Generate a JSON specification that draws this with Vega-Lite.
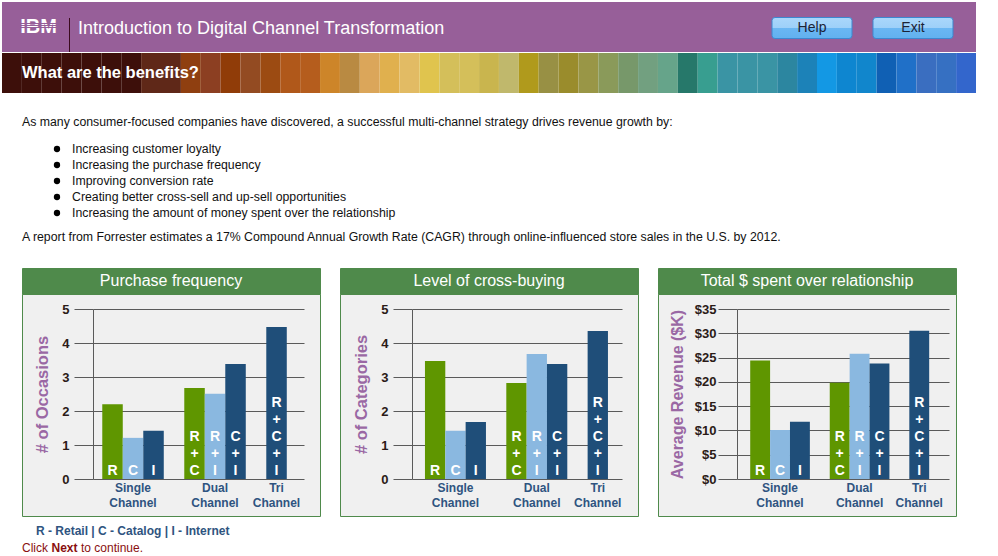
{
  "$schema": "https://vega.github.io/schema/vega-lite/v6.json",
  "padding": {"left": 2, "top": 2, "right": 0, "bottom": 0},
  "background": "white",
  "spacing": 0,
  "resolve": {"scale": {"color": "independent"}},
  "config": {"view": {"stroke": null}, "font": "Liberation Sans", "concat": {"spacing": 0}},
  "vconcat": [
    {
      "spacing": 0,
      "bounds": "flush",
      "hconcat": [
        {
          "width": 67, "height": 50,
          "view": {"fill": "#975f99", "stroke": null},
          "data": {"values": [{"t": "IBM"}]},
          "mark": {"type": "text", "fontSize": 20, "fontWeight": "bold", "baseline": "middle", "dx": 3,
            "fill": {"gradient": "linear", "x1": 0, "y1": 0, "x2": 0, "y2": 1, "stops": [
              {"offset": 0, "color": "#ffffff"}, {"offset": 0.225, "color": "#ffffff"}, {"offset": 0.225, "color": "#975f99"}, {"offset": 0.25, "color": "#975f99"},
              {"offset": 0.25, "color": "#ffffff"}, {"offset": 0.305, "color": "#ffffff"}, {"offset": 0.305, "color": "#975f99"}, {"offset": 0.33, "color": "#975f99"},
              {"offset": 0.33, "color": "#ffffff"}, {"offset": 0.385, "color": "#ffffff"}, {"offset": 0.385, "color": "#975f99"}, {"offset": 0.41, "color": "#975f99"},
              {"offset": 0.41, "color": "#ffffff"}, {"offset": 0.465, "color": "#ffffff"}, {"offset": 0.465, "color": "#975f99"}, {"offset": 0.49, "color": "#975f99"},
              {"offset": 0.49, "color": "#ffffff"}, {"offset": 0.545, "color": "#ffffff"}, {"offset": 0.545, "color": "#975f99"}, {"offset": 0.57, "color": "#975f99"},
              {"offset": 0.57, "color": "#ffffff"}, {"offset": 0.625, "color": "#ffffff"}, {"offset": 0.625, "color": "#975f99"}, {"offset": 0.65, "color": "#975f99"},
              {"offset": 0.65, "color": "#ffffff"}, {"offset": 0.705, "color": "#ffffff"}, {"offset": 0.705, "color": "#975f99"}, {"offset": 0.73, "color": "#975f99"},
              {"offset": 0.73, "color": "#ffffff"}, {"offset": 1, "color": "#ffffff"}]}},
          "encoding": {"text": {"field": "t", "type": "nominal"}}
        },
        {
          "width": 1, "height": 50,
          "view": {"fill": "#975f99", "stroke": null},
          "data": {"values": [{"from": 0, "to": 1}]},
          "mark": {"type": "rule", "color": "#3b0b1e", "strokeWidth": 1},
          "encoding": {
            "y": {"field": "from", "type": "quantitative", "scale": {"domain": [0, 1.47]}, "axis": null},
            "y2": {"field": "to"}
          }
        },
        {
          "width": 679, "height": 50,
          "view": {"fill": "#975f99", "stroke": null},
          "data": {"values": [{"t": "Introduction to Digital Channel Transformation"}]},
          "mark": {"type": "text", "fontSize": 18, "color": "white", "align": "left", "baseline": "middle", "dx": -331.5, "dy": 1.5},
          "encoding": {"text": {"field": "t", "type": "nominal"}}
        },
        {
          "width": 227, "height": 50,
          "view": {"fill": "#975f99", "stroke": null},
          "data": {"values": [{"b": "Help"}, {"b": "Exit"}]},
          "encoding": {"x": {"field": "b", "type": "nominal", "sort": null, "scale": {"type": "point", "padding": 0.624}, "axis": null}},
          "layer": [
            {
              "mark": {"type": "point", "filled": true, "opacity": 1, "size": 6400, "yOffset": 1,
                "shape": "M-0.925,-0.2625H0.925Q1,-0.2625 1,-0.1875V0.1875Q1,0.2625 0.925,0.2625H-0.925Q-1,0.2625 -1,0.1875V-0.1875Q-1,-0.2625 -0.925,-0.2625Z",
                "fill": {"gradient": "linear", "x1": 0, "y1": 0, "x2": 0, "y2": 1, "stops": [
                  {"offset": 0, "color": "#aad7fb"}, {"offset": 0.5, "color": "#9dd0f9"}, {"offset": 0.5, "color": "#6ab7f3"}, {"offset": 1, "color": "#62b1ef"}]},
                "stroke": "#3d88d0", "strokeWidth": 1}
            },
            {
              "mark": {"type": "text", "fontSize": 14, "color": "#1b2336", "baseline": "middle", "yOffset": 1},
              "encoding": {"text": {"field": "b", "type": "nominal"}}
            }
          ]
        }
      ]
    },
    {
      "width": 974, "height": 40,
      "layer": [
        {
          "data": {"values": [
            {"seg": 1}, {"seg": 2}, {"seg": 3}, {"seg": 4}, {"seg": 5}, {"seg": 6}, {"seg": 7}, {"seg": 8}, {"seg": 9}, {"seg": 10},
            {"seg": 11}, {"seg": 12}, {"seg": 13}, {"seg": 14}, {"seg": 15}, {"seg": 16}, {"seg": 17}, {"seg": 18}, {"seg": 19}, {"seg": 20},
            {"seg": 21}, {"seg": 22}, {"seg": 23}, {"seg": 24}, {"seg": 25}, {"seg": 26}, {"seg": 27}, {"seg": 28}, {"seg": 29}, {"seg": 30},
            {"seg": 31}, {"seg": 32}, {"seg": 33}, {"seg": 34}, {"seg": 35}, {"seg": 36}, {"seg": 37}, {"seg": 38}, {"seg": 39}, {"seg": 40},
            {"seg": 41}, {"seg": 42}, {"seg": 43}, {"seg": 44}, {"seg": 45}, {"seg": 46}, {"seg": 47}, {"seg": 48}, {"seg": 49}
          ]},
          "mark": {"type": "rect"},
          "encoding": {
            "x": {"field": "seg", "type": "ordinal", "scale": {"paddingInner": 0, "paddingOuter": 0}, "axis": null},
            "color": {"field": "seg", "type": "ordinal", "legend": null, "scale": {"range": [
              "#3d0f0a", "#3d0f0a", "#3d0f0a", "#3d0f0a", "#3d0f0a", "#3d0f0a", "#3d0f0a", "#5f2818", "#5f2818",
              "#8f3f10", "#8c3f22", "#903c08", "#934b22", "#9c4b12", "#b0581a", "#b55d1d", "#cd8529", "#b98a42", "#dba65a",
              "#e0b04e", "#e2bb64", "#e0c44e", "#d4bf5a", "#d4bf5a", "#c9b54e", "#c0b86c", "#b09a1c", "#989044", "#9a8c2c",
              "#999646", "#8a9a5a", "#77986a", "#72a080", "#66a48a", "#26786a", "#389e90", "#3a94a4", "#3a94a4", "#3a94a4",
              "#2c86a0", "#1c82b8", "#1398e4", "#0e86d0", "#1186cc", "#1060b4", "#2070c8", "#3a6ec0", "#3670c2", "#3366cc"]}}
          }
        },
        {
          "data": {"values": [{"seg": 1, "label": "What are the benefits?"}]},
          "mark": {"type": "text", "color": "white", "fontSize": 16.5, "fontWeight": "bold", "align": "left", "baseline": "middle", "dx": 20},
          "encoding": {
            "x": {"field": "seg", "type": "ordinal", "bandPosition": 0, "axis": null},
            "text": {"field": "label", "type": "nominal"}
          }
        }
      ]
    },
    {
      "width": 40, "height": 48,
      "data": {"values": [{"t": "As many consumer-focused companies have discovered, a successful multi-channel strategy drives revenue growth by:"}]},
      "mark": {"type": "text", "fontSize": 12.3, "color": "#111111", "align": "left", "baseline": "alphabetic", "dy": 9},
      "encoding": {"text": {"field": "t", "type": "nominal"}}
    },
    {
      "width": 40, "height": 80,
      "data": {"values": [
        {"item": "Increasing customer loyalty"},
        {"item": "Increasing the purchase frequency"},
        {"item": "Improving conversion rate"},
        {"item": "Creating better cross-sell and up-sell opportunities"},
        {"item": "Increasing the amount of money spent over the relationship"}
      ]},
      "encoding": {"y": {"field": "item", "type": "nominal", "sort": null, "scale": {"type": "point", "padding": 0.5}, "axis": null}},
      "layer": [
        {"mark": {"type": "point", "filled": true, "opacity": 1, "size": 40, "color": "#000000", "xOffset": 35}},
        {"mark": {"type": "text", "fontSize": 12.3, "color": "#111111", "align": "left", "baseline": "middle", "dx": 50},
         "encoding": {"text": {"field": "item", "type": "nominal"}}}
      ]
    },
    {
      "width": 40, "height": 46,
      "data": {"values": [{"t": "A report from Forrester estimates a 17% Compound Annual Growth Rate (CAGR) through online-influenced store sales in the U.S. by 2012."}]},
      "mark": {"type": "text", "fontSize": 12.3, "color": "#111111", "align": "left", "baseline": "alphabetic", "dy": -3},
      "encoding": {"text": {"field": "t", "type": "nominal"}}
    },
    {
      "spacing": 18,
      "hconcat": [
        {"width": 1, "height": 1, "data": {"values": []}, "mark": {"type": "point", "opacity": 0}},
        {
          "spacing": 0,
          "bounds": "flush",
          "vconcat": [
            {
              "width": 298, "height": 26,
              "view": {"fill": "#4f8a4b", "stroke": "#4f8a4b"},
              "data": {"values": [{"t": "Purchase frequency"}]},
              "mark": {"type": "text", "color": "white", "fontSize": 16, "baseline": "middle"},
              "encoding": {"text": {"field": "t", "type": "nominal"}}
            },
            {
              "width": 298, "height": 222,
              "view": {"fill": "#f0f0f0", "stroke": "#4f8a4b"},
              "resolve": {"axis": {"y": "independent"}},
              "data": {"values": [
                {"bar": "R", "value": 2.2}, {"bar": "C", "value": 1.21}, {"bar": "I", "value": 1.42},
                {"bar": "R+C", "value": 2.68}, {"bar": "R+I", "value": 2.51}, {"bar": "C+I", "value": 3.38},
                {"bar": "R+C+I", "value": 4.47}
              ]},
              "encoding": {
                "x": {"field": "bar", "type": "nominal",
                  "scale": {"domain": ["R", "C", "I", "gap1", "R+C", "R+I", "C+I", "gap2", "R+C+I"], "range": [71, 282], "paddingInner": 0, "paddingOuter": 0.646, "align": 0.35},
                  "axis": {"orient": "bottom", "offset": -37, "title": null, "domain": false, "ticks": false, "grid": false, "labelAngle": 0,
                    "labelExpr": "datum.value == 'C' ? ['Single', 'Channel'] : datum.value == 'R+I' ? ['Dual', 'Channel'] : datum.value == 'R+C+I' ? ['Tri', 'Channel'] : ''",
                    "labelFontSize": 12, "labelFontWeight": "bold", "labelColor": "#2f5480", "labelPadding": 3, "labelLineHeight": 15, "labelOverlap": false, "labelBound": false}}
              },
              "layer": [
                {"mark": {"type": "bar"},
                 "encoding": {
                   "y": {"field": "value", "type": "quantitative",
                     "scale": {"domain": [0, 5], "range": [185, 15], "nice": false},
                     "axis": {"orient": "left", "offset": -71, "values": [0, 1, 2, 3, 4, 5], "domainColor": "#5a5a5a", "tickColor": "#5a5a5a", "tickSize": 19,
                       "grid": true, "gridColor": "#5a5a5a", "gridOpacity": 1, "labelFontSize": 13, "labelFontWeight": "bold", "labelColor": "#2b1b17", "labelPadding": 5,
                       "labelFlush": false, "labelOverlap": false,
                       "title": "# of Occasions", "titleFontSize": 16.5, "titleFontWeight": "bold", "titleColor": "#9a68a4", "titlePadding": 11}},
                   "color": {"field": "bar", "type": "nominal", "legend": null,
                     "scale": {"domain": ["R", "C", "I", "R+C", "R+I", "C+I", "R+C+I"], "range": ["#5f9600", "#8ab8e0", "#1f4e79", "#5f9600", "#8ab8e0", "#1f4e79", "#1f4e79"]}}}},
                {"transform": [{"calculate": "reverse(split(datum.bar, ''))", "as": "lines"}],
                 "mark": {"type": "text", "color": "white", "fontSize": 14, "fontWeight": "bold", "baseline": "bottom", "lineHeight": -17, "dy": -1},
                 "encoding": {"y": {"datum": 0, "type": "quantitative", "axis": null}, "text": {"field": "lines", "type": "nominal"}}}
              ]
            }
          ]
        },
        {
          "spacing": 0,
          "bounds": "flush",
          "vconcat": [
            {
              "width": 298, "height": 26,
              "view": {"fill": "#4f8a4b", "stroke": "#4f8a4b"},
              "data": {"values": [{"t": "Level of cross-buying"}]},
              "mark": {"type": "text", "color": "white", "fontSize": 16, "baseline": "middle"},
              "encoding": {"text": {"field": "t", "type": "nominal"}}
            },
            {
              "width": 298, "height": 222,
              "view": {"fill": "#f0f0f0", "stroke": "#4f8a4b"},
              "resolve": {"axis": {"y": "independent"}},
              "data": {"values": [
                {"bar": "R", "value": 3.47}, {"bar": "C", "value": 1.42}, {"bar": "I", "value": 1.68},
                {"bar": "R+C", "value": 2.82}, {"bar": "R+I", "value": 3.68}, {"bar": "C+I", "value": 3.38},
                {"bar": "R+C+I", "value": 4.35}
              ]},
              "encoding": {
                "x": {"field": "bar", "type": "nominal",
                  "scale": {"domain": ["R", "C", "I", "gap1", "R+C", "R+I", "C+I", "gap2", "R+C+I"], "range": [72, 282], "paddingInner": 0, "paddingOuter": 0.664, "align": 0.48},
                  "axis": {"orient": "bottom", "offset": -37, "title": null, "domain": false, "ticks": false, "grid": false, "labelAngle": 0,
                    "labelExpr": "datum.value == 'C' ? ['Single', 'Channel'] : datum.value == 'R+I' ? ['Dual', 'Channel'] : datum.value == 'R+C+I' ? ['Tri', 'Channel'] : ''",
                    "labelFontSize": 12, "labelFontWeight": "bold", "labelColor": "#2f5480", "labelPadding": 3, "labelLineHeight": 15, "labelOverlap": false, "labelBound": false}}
              },
              "layer": [
                {"mark": {"type": "bar"},
                 "encoding": {
                   "y": {"field": "value", "type": "quantitative",
                     "scale": {"domain": [0, 5], "range": [185, 15], "nice": false},
                     "axis": {"orient": "left", "offset": -72, "values": [0, 1, 2, 3, 4, 5], "domainColor": "#5a5a5a", "tickColor": "#5a5a5a", "tickSize": 19,
                       "grid": true, "gridColor": "#5a5a5a", "gridOpacity": 1, "labelFontSize": 13, "labelFontWeight": "bold", "labelColor": "#2b1b17", "labelPadding": 5,
                       "labelFlush": false, "labelOverlap": false,
                       "title": "# of Categories", "titleFontSize": 16.5, "titleFontWeight": "bold", "titleColor": "#9a68a4", "titlePadding": 11}},
                   "color": {"field": "bar", "type": "nominal", "legend": null,
                     "scale": {"domain": ["R", "C", "I", "R+C", "R+I", "C+I", "R+C+I"], "range": ["#5f9600", "#8ab8e0", "#1f4e79", "#5f9600", "#8ab8e0", "#1f4e79", "#1f4e79"]}}}},
                {"transform": [{"calculate": "reverse(split(datum.bar, ''))", "as": "lines"}],
                 "mark": {"type": "text", "color": "white", "fontSize": 14, "fontWeight": "bold", "baseline": "bottom", "lineHeight": -17, "dy": -1},
                 "encoding": {"y": {"datum": 0, "type": "quantitative", "axis": null}, "text": {"field": "lines", "type": "nominal"}}}
              ]
            }
          ]
        },
        {
          "spacing": 0,
          "bounds": "flush",
          "vconcat": [
            {
              "width": 298, "height": 26,
              "view": {"fill": "#4f8a4b", "stroke": "#4f8a4b"},
              "data": {"values": [{"t": "Total $ spent over relationship"}]},
              "mark": {"type": "text", "color": "white", "fontSize": 16, "baseline": "middle"},
              "encoding": {"text": {"field": "t", "type": "nominal"}}
            },
            {
              "width": 298, "height": 222,
              "view": {"fill": "#f0f0f0", "stroke": "#4f8a4b"},
              "resolve": {"axis": {"y": "independent"}},
              "data": {"values": [
                {"bar": "R", "value": 24.4}, {"bar": "C", "value": 10.1}, {"bar": "I", "value": 11.8},
                {"bar": "R+C", "value": 19.8}, {"bar": "R+I", "value": 25.8}, {"bar": "C+I", "value": 23.8},
                {"bar": "R+C+I", "value": 30.5}
              ]},
              "encoding": {
                "x": {"field": "bar", "type": "nominal",
                  "scale": {"domain": ["R", "C", "I", "gap1", "R+C", "R+I", "C+I", "gap2", "R+C+I"], "range": [79, 291], "paddingInner": 0, "paddingOuter": 0.83, "align": 0.4},
                  "axis": {"orient": "bottom", "offset": -37, "title": null, "domain": false, "ticks": false, "grid": false, "labelAngle": 0,
                    "labelExpr": "datum.value == 'C' ? ['Single', 'Channel'] : datum.value == 'R+I' ? ['Dual', 'Channel'] : datum.value == 'R+C+I' ? ['Tri', 'Channel'] : ''",
                    "labelFontSize": 12, "labelFontWeight": "bold", "labelColor": "#2f5480", "labelPadding": 3, "labelLineHeight": 15, "labelOverlap": false, "labelBound": false}}
              },
              "layer": [
                {"mark": {"type": "bar"},
                 "encoding": {
                   "y": {"field": "value", "type": "quantitative",
                     "scale": {"domain": [0, 35], "range": [185, 15], "nice": false},
                     "axis": {"orient": "left", "offset": -79, "values": [0, 5, 10, 15, 20, 25, 30, 35], "labelExpr": "'$' + datum.value", "domainColor": "#5a5a5a", "tickColor": "#5a5a5a", "tickSize": 19,
                       "grid": true, "gridColor": "#5a5a5a", "gridOpacity": 1, "labelFontSize": 13, "labelFontWeight": "bold", "labelColor": "#2b1b17", "labelPadding": 2,
                       "labelFlush": false, "labelOverlap": false,
                       "title": "Average Revenue ($K)", "titleFontSize": 16, "titleFontWeight": "bold", "titleColor": "#9a68a4", "titlePadding": 9}},
                   "color": {"field": "bar", "type": "nominal", "legend": null,
                     "scale": {"domain": ["R", "C", "I", "R+C", "R+I", "C+I", "R+C+I"], "range": ["#5f9600", "#8ab8e0", "#1f4e79", "#5f9600", "#8ab8e0", "#1f4e79", "#1f4e79"]}}}},
                {"transform": [{"calculate": "reverse(split(datum.bar, ''))", "as": "lines"}],
                 "mark": {"type": "text", "color": "white", "fontSize": 14, "fontWeight": "bold", "baseline": "bottom", "lineHeight": -17, "dy": -1},
                 "encoding": {"y": {"datum": 0, "type": "quantitative", "axis": null}, "text": {"field": "lines", "type": "nominal"}}}
              ]
            }
          ]
        }
      ]
    },
    {
      "width": 40, "height": 38,
      "layer": [
        {"data": {"values": [{"t": "R - Retail  |  C - Catalog  |  I - Internet"}]},
         "mark": {"type": "text", "fontSize": 12, "fontWeight": "bold", "color": "#2f5480", "align": "left", "baseline": "middle", "dx": 14, "dy": -5},
         "encoding": {"text": {"field": "t", "type": "nominal"}}},
        {"data": {"values": [{"t": "Click"}]},
         "mark": {"type": "text", "fontSize": 12, "color": "#8a0f0f", "align": "left", "baseline": "middle", "dx": 0, "dy": 12},
         "encoding": {"text": {"field": "t", "type": "nominal"}}},
        {"data": {"values": [{"t": "Next"}]},
         "mark": {"type": "text", "fontSize": 12, "fontWeight": "bold", "color": "#8a0f0f", "align": "left", "baseline": "middle", "dx": 29.5, "dy": 12},
         "encoding": {"text": {"field": "t", "type": "nominal"}}},
        {"data": {"values": [{"t": "to continue."}]},
         "mark": {"type": "text", "fontSize": 12, "color": "#8a0f0f", "align": "left", "baseline": "middle", "dx": 59, "dy": 12},
         "encoding": {"text": {"field": "t", "type": "nominal"}}}
      ]
    }
  ]
}
